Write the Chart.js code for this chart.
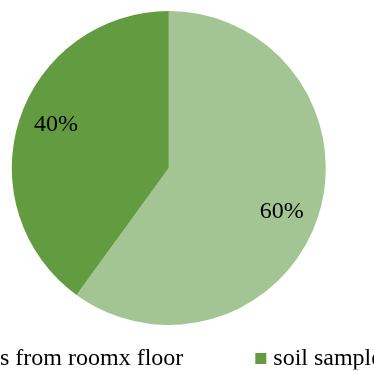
<!DOCTYPE html>
<html>
<head>
<meta charset="utf-8">
<script src="https://cdn.jsdelivr.net/npm/chart.js@4"></script>
<style>
html, body { margin: 0; padding: 0; background: #fff; overflow: hidden; }
#wrap { position: relative; width: 374px; height: 371px; overflow: hidden; }
#pie { position: absolute; top: 0; }
</style>
</head>
<body>
<div id="wrap"><canvas id="pie"></canvas></div>
<script>
const sampleLabels = ['samples from roomx floor', 'soil samples'];
const sampleShares = [60, 40];
const sliceColors = ['#A3C593', '#629B40'];

const FONT = "'Liberation Serif', 'Times New Roman', serif";
const FONT_SIZE = 24;
const CENTER_X = 168.5;
const CENTER_Y = 168;
const RADIUS = 157;
const LEGEND_GAP = 77;        // space between the two legend entries
const LEGEND_TEXT_END = 183;  // where the first legend text ends in the window
const LEGEND_ROW_TOP = 346.5;
const LEGEND_HEIGHT = 100;
const BOX_W = 1;

// the picture is a crop: shift the canvas left so the first legend entry runs off the edge
const measure = document.createElement('canvas').getContext('2d');
measure.font = FONT_SIZE + 'px ' + FONT;
const firstItemWidth = BOX_W + FONT_SIZE / 2 + measure.measureText(sampleLabels[0]).width;
const shiftX = firstItemWidth + LEGEND_GAP - LEGEND_TEXT_END;
const fullW = 2 * (CENTER_X + shiftX);
const canvasW = Math.ceil(fullW);

const canvas = document.getElementById('pie');
canvas.width = canvasW;
canvas.height = 371;
canvas.style.left = (-shiftX) + 'px';

const legendTop = LEGEND_ROW_TOP - LEGEND_GAP;

// percentage labels inside the slices
const sliceLabels = {
    id: 'sliceLabels',
    afterDatasetsDraw(chart) {
        const ctx = chart.ctx;
        const meta = chart.getDatasetMeta(0);
        const total = sampleShares.reduce((s, v) => s + v, 0);
        ctx.save();
        ctx.font = FONT_SIZE + 'px ' + FONT;
        ctx.fillStyle = '#000';
        ctx.textAlign = 'center';
        ctx.textBaseline = 'middle';
        meta.data.forEach((arc, i) => {
            const p = arc.getProps(['x', 'y', 'startAngle', 'endAngle', 'outerRadius'], true);
            const mid = (p.startAngle + p.endAngle) / 2 + 3 * Math.PI / 180;
            const d = p.outerRadius * 0.77;
            const text = Math.round(sampleShares[i] / total * 100) + '%';
            ctx.fillText(text, p.x + Math.cos(mid) * d, p.y + Math.sin(mid) * d);
        });
        ctx.restore();
    }
};

new Chart(canvas, {
    type: 'pie',
    data: {
        labels: sampleLabels,
        datasets: [{
            data: sampleShares,
            backgroundColor: sliceColors,
            borderWidth: 0,
            radius: RADIUS,
            clip: false
        }]
    },
    options: {
        responsive: false,
        animation: false,
        events: [],
        layout: {
            padding: {
                top: 2 * CENTER_Y - legendTop,
                bottom: 371 - LEGEND_HEIGHT - legendTop,
                left: 0,
                right: canvasW - fullW
            }
        },
        plugins: {
            tooltip: { enabled: false },
            legend: {
                position: 'bottom',
                align: 'start',
                maxHeight: LEGEND_HEIGHT,
                labels: {
                    padding: LEGEND_GAP,
                    boxWidth: BOX_W,
                    boxHeight: 11,
                    usePointStyle: true,
                    pointStyle: 'rect',
                    color: '#000',
                    font: { family: FONT, size: FONT_SIZE }
                }
            }
        }
    },
    plugins: [sliceLabels]
});
</script>
</body>
</html>
